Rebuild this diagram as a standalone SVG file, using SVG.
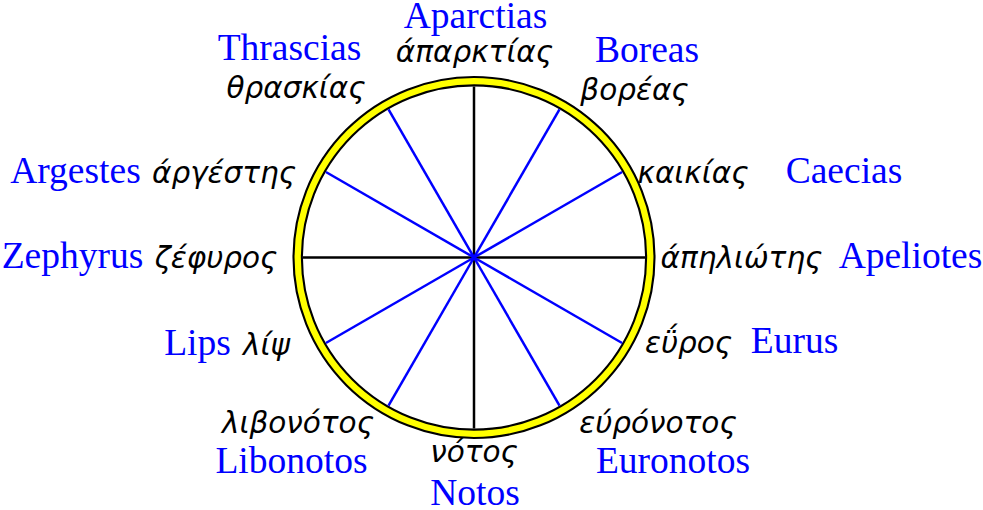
<svg xmlns="http://www.w3.org/2000/svg" width="983" height="510" viewBox="0 0 983 510">
<style>
.lat{font-family:"Liberation Serif",serif;font-size:37.5px;fill:#0000ff;text-anchor:middle}
.gr{font-family:"DejaVu Sans",sans-serif;font-style:italic;font-size:29.5px;fill:#000;text-anchor:middle}
.blk{stroke:#000;stroke-width:2.5}
.blu{stroke:#0000ff;stroke-width:2.5}
</style>
<rect width="983" height="510" fill="#fff"/>
<g id="wheel">
<circle cx="474" cy="257.5" r="176.3" fill="none" stroke="#000" stroke-width="10.5"/>
<circle cx="474" cy="257.5" r="176.3" fill="none" stroke="#ffff00" stroke-width="6.3"/>
</g>
<g id="connectors">
<line class="blk" x1="474" y1="257.5" x2="474" y2="86.5"/>
<line class="blk" x1="474" y1="257.5" x2="474" y2="428.5"/>
<line class="blk" x1="474" y1="257.5" x2="303" y2="257.5"/>
<line class="blk" x1="474" y1="257.5" x2="645" y2="257.5"/>
<line class="blu" x1="474" y1="257.5" x2="559.5" y2="109.4"/>
<line class="blu" x1="474" y1="257.5" x2="622.1" y2="172"/>
<line class="blu" x1="474" y1="257.5" x2="622.1" y2="343"/>
<line class="blu" x1="474" y1="257.5" x2="559.5" y2="405.6"/>
<line class="blu" x1="474" y1="257.5" x2="388.5" y2="405.6"/>
<line class="blu" x1="474" y1="257.5" x2="325.9" y2="343"/>
<line class="blu" x1="474" y1="257.5" x2="325.9" y2="172"/>
<line class="blu" x1="474" y1="257.5" x2="388.5" y2="109.4"/>
</g>
<g id="aparctias"><text class="lat" x="475.5" y="28">Aparctias</text><text class="gr" x="474.5" y="62">άπαρκτίας</text></g>
<g id="thrascias"><text class="lat" x="289.5" y="60">Thrascias</text><text class="gr" x="296" y="98">θρασκίας</text></g>
<g id="boreas"><text class="lat" x="647" y="62">Boreas</text><text class="gr" x="634.5" y="100">βορέας</text></g>
<g id="argestes"><text class="lat" x="75.5" y="183">Argestes</text><text class="gr" x="224" y="183">άργέστης</text></g>
<g id="caecias"><text class="gr" x="693" y="183">καικίας</text><text class="lat" x="844" y="183">Caecias</text></g>
<g id="zephyrus"><text class="lat" x="72.5" y="268">Zephyrus</text><text class="gr" x="216" y="268">ζέφυρος</text></g>
<g id="apeliotes"><text class="gr" x="741.5" y="268">άπηλιώτης</text><text class="lat" x="910.5" y="268">Apeliotes</text></g>
<g id="lips"><text class="lat" x="197.5" y="355">Lips</text><text class="gr" x="266.5" y="355">λίψ</text></g>
<g id="eurus"><text class="gr" x="688.5" y="353">εΰρος</text><text class="lat" x="794.5" y="353">Eurus</text></g>
<g id="libonotos"><text class="gr" x="298" y="433">λιβονότος</text><text class="lat" x="291.5" y="473">Libonotos</text></g>
<g id="notos"><text class="gr" x="474" y="462">νότος</text><text class="lat" x="475" y="505">Notos</text></g>
<g id="euronotos"><text class="gr" x="658" y="433">εύρόνοτος</text><text class="lat" x="673" y="473">Euronotos</text></g>
</svg>
